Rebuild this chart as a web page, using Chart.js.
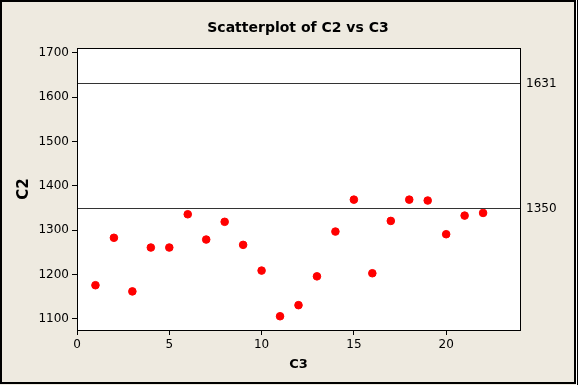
<!DOCTYPE html>
<html>
<head>
<meta charset="utf-8">
<script src="https://cdn.jsdelivr.net/npm/chart.js@4.4.1/dist/chart.umd.min.js"></script>
<style>
  html, body { margin: 0; padding: 0; background: #eeeae0; }
  #wrap { width: 578px; height: 385px; position: relative; }
</style>
</head>
<body>
<div id="wrap"><canvas id="chart" width="578" height="385"></canvas></div>
<script>
// C3 (x) and C2 (y) values
const c3 = [1, 2, 3, 4, 5, 6, 7, 8, 9, 10, 11, 12, 13, 14, 15, 16, 17, 18, 19, 20, 21, 22];
const c2 = [1176, 1283, 1162, 1261, 1261, 1336, 1279, 1319, 1267, 1209, 1106, 1131,
            1196, 1297, 1369, 1203, 1321, 1369, 1367, 1291, 1333, 1339];
const refLines = [1631, 1350];
const chartTitle = 'Scatterplot of C2 vs C3';

const points = c3.map((x, i) => ({ x: x, y: c2[i] }));
const font = 'Tahoma, "DejaVu Sans", sans-serif';

// background, frame, plot box, reference lines and title
const decor = {
    id: 'decor',
    beforeDraw(chart) {
        const ctx = chart.ctx;
        const a = chart.chartArea;
        ctx.save();
        ctx.fillStyle = '#ffffff';
        ctx.fillRect(0, 0, chart.width, chart.height);
        ctx.fillStyle = '#eeeae0';
        ctx.fillRect(0, 0, 576, chart.height);
        ctx.fillStyle = '#ffffff';
        ctx.fillRect(a.left, a.top, a.right - a.left, a.bottom - a.top);
        ctx.restore();
    },
    afterDatasetsDraw(chart) {
        const ctx = chart.ctx;
        const a = chart.chartArea;
        const y = chart.scales.y;
        ctx.save();
        // reference lines
        ctx.strokeStyle = '#333333';
        ctx.lineWidth = 1;
        ctx.fillStyle = '#000000';
        ctx.font = '12px ' + font;
        ctx.textAlign = 'left';
        ctx.textBaseline = 'middle';
        refLines.forEach(v => {
            const py = Math.round(y.getPixelForValue(v)) + 0.5;
            ctx.beginPath();
            ctx.moveTo(a.left, py);
            ctx.lineTo(a.right, py);
            ctx.stroke();
            ctx.fillText(String(v), a.right + 6, py);
        });
        // plot box
        ctx.strokeStyle = '#000000';
        ctx.strokeRect(Math.round(a.left) + 0.5, Math.round(a.top) + 0.5,
            Math.round(a.right - a.left), Math.round(a.bottom - a.top));
        // title
        ctx.font = 'bold 14px ' + font;
        ctx.textAlign = 'center';
        ctx.fillText(chartTitle, 298, 28);
        // outer frame
        ctx.lineWidth = 2;
        ctx.strokeRect(1, 1, 574, 382);
        ctx.lineWidth = 1;
        ctx.beginPath();
        ctx.moveTo(577.5, 0);
        ctx.lineTo(577.5, 385);
        ctx.stroke();
        ctx.restore();
    }
};

new Chart(document.getElementById('chart'), {
    type: 'scatter',
    data: {
        datasets: [{
            label: 'C2',
            data: points,
            backgroundColor: '#ff0000',
            borderColor: '#ff0000',
            pointRadius: 3.8,
            pointHoverRadius: 3.8
        }]
    },
    options: {
        responsive: false,
        animation: false,
        layout: { padding: { top: 48, right: 58, left: 0, bottom: 0 } },
        plugins: {
            legend: { display: false },
            tooltip: { enabled: false }
        },
        scales: {
            x: {
                type: 'linear',
                min: 0,
                max: 24,
                afterFit(scale) { scale.height = 55; },
                border: { display: false },
                grid: { drawOnChartArea: false, drawTicks: true, tickLength: 5, color: '#000000' },
                ticks: { stepSize: 5, includeBounds: false, color: '#000000', padding: 3,
                         font: { family: font, size: 12 }, maxRotation: 0,
                         callback: v => String(v) },
                title: { display: true, text: 'C3', color: '#000000', padding: { top: 4, bottom: 13 },
                         font: { family: font, size: 13, weight: 'bold' } }
            },
            y: {
                type: 'linear',
                min: 1075,
                max: 1711,
                afterFit(scale) { scale.width = 77; },
                border: { display: false },
                grid: { drawOnChartArea: false, drawTicks: true, tickLength: 5, color: '#000000' },
                ticks: { stepSize: 100, includeBounds: false, color: '#000000', padding: 3,
                         font: { family: font, size: 12 },
                         callback: v => String(v) },
                title: { display: true, text: 'C2', color: '#000000', padding: { top: 15 },
                         font: { family: font, size: 15, weight: 'bold' } }
            }
        }
    },
    plugins: [decor]
});
</script>
</body>
</html>
